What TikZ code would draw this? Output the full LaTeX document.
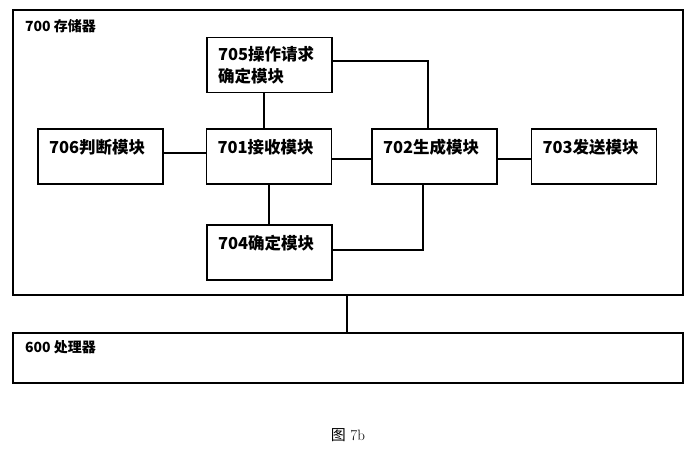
\documentclass[tikz,border=0pt]{standalone}
\usepackage{fontspec}
\usepackage{tikz}
\newfontfamily\cjk{Noto Sans CJK SC}

\begin{document}
\begin{tikzpicture}[x=1pt,y=-1pt,line width=1.5pt,
    module/.style={draw,text width=103pt,inner xsep=11pt,align=left,
        minimum height=55pt,text height=12pt,text depth=17.5pt,
        font=\fontsize{16.5}{22}\cjk\bfseries},
    frame/.style={draw,minimum width=670pt,inner sep=0pt}]
\useasboundingbox (0,0) rectangle (694,450);
% outer memory and processor
\path
    (348,152.5) node [frame,minimum height=285pt] (mem) {}
    +(0,205.5) node [frame,minimum height=50pt] (cpu) {};
\node [anchor=west,inner sep=0pt,font=\fontsize{14}{16}\cjk\bfseries] (memlabel)
    at ([shift={(12pt,-17pt)}]mem.north west) {700 存储器};
\node [anchor=west,inner sep=0pt,font=\fontsize{14}{16}\cjk\bfseries] (cpulabel)
    at ([shift={(12pt,-15pt)}]cpu.north west) {600 处理器};
% modules
\path
    (269,156.5) node [module] (recv) {701接收模块}
    +(-168.5,0) node [module] (judge) {706判断模块}
    +(165.5,0) node [module] (gen) {702生成模块}
    +(325,0) node [module] (send) {703发送模块}
    +(0.5,-91.5) node [module,text height={},text depth={}] (opreq) {705操作请求\\确定模块}
    +(0.5,96) node [module] (det) {704确定模块};
% links
\draw ([yshift=3.5pt]judge.east) -- ([yshift=3.5pt]recv.west);
\draw ([yshift=-2.5pt]recv.east) -- ([yshift=-2.5pt]gen.west);
\draw ([yshift=-2.5pt]gen.east) -- ([yshift=-2.5pt]send.west);
\draw ([xshift=-5.5pt]opreq.south) -- ([xshift=-5pt]recv.north);
\draw ([yshift=4pt]opreq.east) -| ([xshift=-6.5pt]gen.north);
\draw (recv.south) -- (recv.south |- det.north);
\draw ([xshift=-11.5pt]gen.south) |- ([yshift=2.5pt]det.east);
\draw ([xshift=-1pt]mem.south) -- ([xshift=-1pt]cpu.north);
% caption
\node [font=\fontsize{15}{18}\selectfont] (caption) at (348,435) {{\cjk 图} 7b};
\end{tikzpicture}
\end{document}
